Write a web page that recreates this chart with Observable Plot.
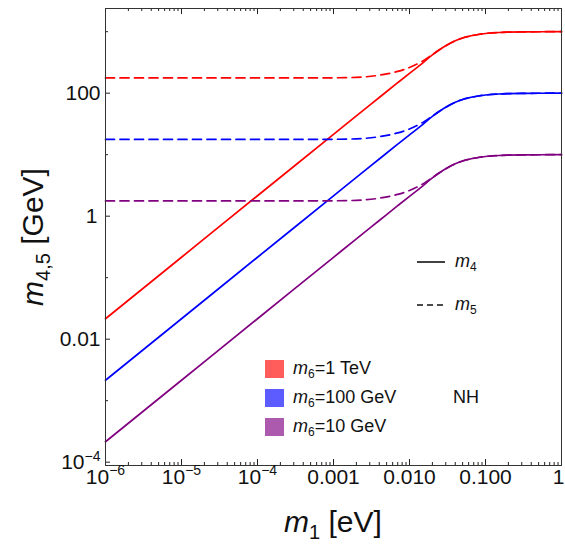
<!DOCTYPE html>
<html><head><meta charset="utf-8">
<script src="https://cdn.jsdelivr.net/npm/d3@7"></script>
<script src="https://cdn.jsdelivr.net/npm/@observablehq/plot@0.6"></script>
<style>
html,body{margin:0;padding:0;background:#fff;}
#chart svg{display:block;}
</style></head><body><div id="chart"></div>
<script>
// ---- data ----
const m1 = [1e-6, 1e-5, 1e-4, 1e-3, 0.002, 0.004, 0.007, 0.01, 0.015, 0.02, 0.025, 0.03, 0.04, 0.05, 0.06, 0.07, 0.08, 0.1, 0.15, 0.2, 0.3, 0.5, 1];

const m4_1TeV   = [0.0215, 0.215, 2.15, 21.4, 42.8, 85, 148, 210, 310, 420, 510, 590, 710, 790, 840, 875, 900, 935, 970, 982, 992, 998, 1000];
const m5_1TeV   = [177, 177, 177, 178, 181, 196, 226, 262, 335, 425, 512, 590, 710, 790, 840, 875, 900, 935, 970, 982, 992, 998, 1000];
const m4_100GeV = [0.00215, 0.0215, 0.215, 2.14, 4.28, 8.5, 14.8, 21, 31, 42, 51, 59, 71, 79, 84, 87.5, 90, 93.5, 97, 98.2, 99.2, 99.8, 100];
const m5_100GeV = [17.7, 17.7, 17.7, 17.8, 18.1, 19.6, 22.6, 26.2, 33.5, 42.5, 51.2, 59, 71, 79, 84, 87.5, 90, 93.5, 97, 98.2, 99.2, 99.8, 100];
const m4_10GeV  = [0.000215, 0.00215, 0.0215, 0.214, 0.428, 0.85, 1.48, 2.1, 3.1, 4.2, 5.1, 5.9, 7.1, 7.9, 8.4, 8.75, 9.0, 9.35, 9.7, 9.82, 9.92, 9.98, 10];
const m5_10GeV  = [1.77, 1.77, 1.77, 1.78, 1.81, 1.96, 2.26, 2.62, 3.35, 4.25, 5.12, 5.9, 7.1, 7.9, 8.4, 8.75, 9.0, 9.35, 9.7, 9.82, 9.92, 9.98, 10];

const seriesLabels = ["=1 TeV", "=100 GeV", "=10 GeV"];
const seriesColors = ["#ff0000", "#0000ff", "#800080"];
const swatchColors = ["#ff5c5c", "#5c5cff", "#ab5aad"];

const xTicks = [1e-6, 1e-5, 1e-4, 1e-3, 1e-2, 1e-1, 1];
const xTickLabels = ["10^-6", "10^-5", "10^-4", "0.001", "0.010", "0.100", "1"];
const yTicks = [1e-4, 1e-2, 1, 100];
const yTickLabels = ["10^-4", "0.01", "1", "100"];
const yMinorTicks = [1e-3, 0.1, 10, 1000];

// ---- build tables ----
const m4Sets = [m4_1TeV, m4_100GeV, m4_10GeV];
const m5Sets = [m5_1TeV, m5_100GeV, m5_10GeV];
const tbl = arr => m1.map((x, i) => ({x, y: arr[i]}));

const xMinor = [];
for (let d = -6; d < 0; d++) for (let k = 2; k <= 9; k++) xMinor.push(k * Math.pow(10, d));

const W = 565, H = 547, ML = 105, MR = 4, MT = 8, MB = 82;
const PH = H - MT - MB, PW = W - ML - MR;
const FONT = "'Liberation Sans', Arial, Helvetica, sans-serif";

const marks = [];
// ticks (inward)
marks.push(Plot.ruleX(xTicks, {x: d => d, insetTop: PH - 6, stroke: "#222"}));
marks.push(Plot.ruleX(xTicks, {x: d => d, insetBottom: PH - 6, stroke: "#222"}));
marks.push(Plot.ruleX(xMinor, {x: d => d, insetTop: PH - 3, stroke: "#222"}));
marks.push(Plot.ruleX(xMinor, {x: d => d, insetBottom: PH - 3, stroke: "#222"}));
marks.push(Plot.ruleY(yTicks, {y: d => d, insetRight: PW - 5, stroke: "#222"}));
marks.push(Plot.ruleY(yMinorTicks, {y: d => d, insetRight: PW - 3, stroke: "#222"}));

for (let i = 0; i < 3; i++) {
  marks.push(Plot.line(tbl(m5Sets[i]), {x: "x", y: "y", stroke: seriesColors[i], strokeWidth: 1.7, strokeDasharray: "9,5.5", curve: "monotone-x"}));
  marks.push(Plot.line(tbl(m4Sets[i]), {x: "x", y: "y", stroke: seriesColors[i], strokeWidth: 1.7, curve: "monotone-x"}));
}
marks.push(Plot.frame({stroke: "#333", strokeWidth: 1}));

// tick labels
marks.push(Plot.text(xTicks, {x: d => d, text: (d, i) => xTickLabels[i], frameAnchor: "bottom", lineAnchor: "middle", dy: 11.5, fontSize: 21, fill: "#111"}));
marks.push(Plot.text(yTicks, {y: d => d, text: (d, i) => yTickLabels[i], frameAnchor: "left", lineAnchor: "middle", dx: -5, textAnchor: "end", fontSize: 21, fill: "#111"}));

const svg = Plot.plot({
  width: W, height: H,
  marginLeft: ML, marginRight: MR, marginTop: MT, marginBottom: MB,
  x: {type: "log", domain: [1e-6, 1], axis: null},
  y: {type: "log", domain: [8.83e-5, 2382], axis: null},
  style: {fontFamily: FONT, background: "#fff", overflow: "visible"},
  marks
});

const NS = "http://www.w3.org/2000/svg";
// superscripts for 10^n labels; keep the last x label inside the picture
svg.querySelectorAll("text").forEach(t => {
  const m = t.textContent.match(/^(\d+)\^(-?\d+)$/);
  if (m) {
    t.textContent = m[1];
    const s = document.createElementNS(NS, "tspan");
    s.setAttribute("dy", "-0.6em");
    s.setAttribute("font-size", "14");
    s.textContent = m[2].replace("-", "\u2212");
    t.appendChild(s);
  } else if (t.textContent === xTickLabels[xTickLabels.length - 1] && t.getAttribute("text-anchor") !== "end") {
    t.setAttribute("dx", "-3");
  }
});

const root = d3.select(svg);
function rich(g, parts, attrs) {
  const t = g.append("text").attr("font-family", FONT).attr("fill", "#111").attr("text-anchor", "start");
  for (const k in attrs) t.attr(k, attrs[k]);
  let shift = 0;
  for (const p of parts) {
    const ts = t.append("tspan").text(p.t);
    if (p.i) ts.attr("font-style", "italic");
    if (p.fs) ts.attr("font-size", p.fs);
    const target = p.sub || 0;
    if (target !== shift) { ts.attr("dy", target - shift); shift = target; }
  }
  return t;
}

// axis titles
rich(root, [{t: "m", i: 1}, {t: "1", fs: 20, sub: 7}, {t: " [eV]"}],
  {x: 333, y: 532, "text-anchor": "middle", "font-size": 30});
rich(root, [{t: "m", i: 1}, {t: "4,5", fs: 20, sub: 7}, {t: " [GeV]"}],
  {"text-anchor": "middle", "font-size": 30, transform: "translate(43,237) rotate(-90)"});

// line-style legend
root.append("line").attr("x1", 417).attr("x2", 445).attr("y1", 262).attr("y2", 262).attr("stroke", "#111").attr("stroke-width", 1.6);
root.append("line").attr("x1", 417).attr("x2", 445).attr("y1", 305).attr("y2", 305).attr("stroke", "#111").attr("stroke-width", 1.6).attr("stroke-dasharray", "6,4");
rich(root, [{t: "m", i: 1}, {t: "4", fs: 12, sub: 4}], {x: 455, y: 267, "font-size": 18});
rich(root, [{t: "m", i: 1}, {t: "5", fs: 12, sub: 4}], {x: 455, y: 310, "font-size": 18});

// colour legend
const legY = [360, 389, 418];
for (let i = 0; i < 3; i++) {
  root.append("rect").attr("x", 265).attr("y", legY[i]).attr("width", 19).attr("height", 18).attr("fill", swatchColors[i]);
  rich(root, [{t: "m", i: 1}, {t: "6", fs: 12, sub: 4}, {t: seriesLabels[i], sub: 0}], {x: 293, y: legY[i] + 14, "font-size": 18});
}
rich(root, [{t: "NH"}], {x: 453, y: 403, "font-size": 18});

document.getElementById("chart").appendChild(svg);
</script>
</body></html>
